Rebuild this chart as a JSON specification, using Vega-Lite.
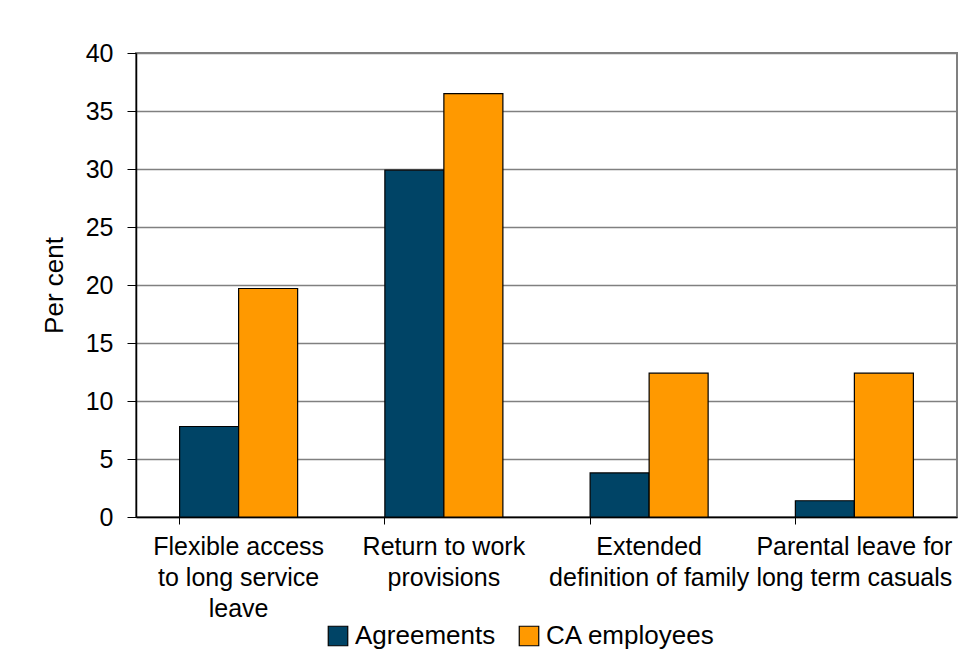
{
  "$schema": "https://vega.github.io/schema/vega-lite/v6.json",
  "width": 821,
  "height": 464,
  "autosize": {"type": "none"},
  "padding": {"left": 136, "top": 53, "right": 8, "bottom": 138},
  "background": "white",
  "config": {
    "font": "Liberation Sans",
    "view": {"stroke": "#808080", "strokeWidth": 2}
  },
  "data": {
    "values": [
      {"category": "Flexible access|to long service|leave", "series": "Agreements", "value": 7.8},
      {"category": "Flexible access|to long service|leave", "series": "CA employees", "value": 19.7},
      {"category": "Return to work|provisions", "series": "Agreements", "value": 29.9},
      {"category": "Return to work|provisions", "series": "CA employees", "value": 36.5},
      {"category": "Extended|definition of family", "series": "Agreements", "value": 3.8},
      {"category": "Extended|definition of family", "series": "CA employees", "value": 12.4},
      {"category": "Parental leave for|long term casuals", "series": "Agreements", "value": 1.4},
      {"category": "Parental leave for|long term casuals", "series": "CA employees", "value": 12.4}
    ]
  },
  "mark": {"type": "bar", "stroke": "black", "strokeWidth": 1.2},
  "encoding": {
    "x": {
      "field": "category",
      "type": "nominal",
      "sort": null,
      "scale": {"paddingInner": 0.425, "paddingOuter": 0.2125},
      "axis": {
        "title": null,
        "labelAngle": 0,
        "labelExpr": "split(datum.label, '|')",
        "labelFontSize": 25,
        "labelColor": "black",
        "labelLineHeight": 31,
        "labelPadding": 10,
        "labelBaseline": "top",
        "bandPosition": 0,
        "tickSize": 7,
        "tickColor": "black",
        "domainColor": "black",
        "domainWidth": 1.5,
        "grid": false,
        "labelLimit": 300
      }
    },
    "xOffset": {"field": "series", "type": "nominal", "scale": {"paddingInner": 0, "paddingOuter": 0}},
    "y": {
      "field": "value",
      "type": "quantitative",
      "scale": {"domain": [0, 40], "nice": false},
      "axis": {
        "title": "Per cent",
        "titleFontSize": 26,
        "titleFontWeight": "normal",
        "titleColor": "black",
        "titlePadding": 18,
        "values": [0, 5, 10, 15, 20, 25, 30, 35, 40],
        "labelFontSize": 25,
        "labelColor": "black",
        "labelPadding": 14,
        "tickSize": 9,
        "tickColor": "black",
        "domainColor": "black",
        "domainWidth": 1.5,
        "gridColor": "#808080",
        "gridWidth": 1.5,
        "gridOpacity": 1
      }
    },
    "color": {
      "field": "series",
      "type": "nominal",
      "scale": {"domain": ["Agreements", "CA employees"], "range": ["#004466", "#FF9900"]},
      "legend": {
        "title": null,
        "orient": "none",
        "direction": "horizontal",
        "legendX": 189,
        "legendY": 570,
        "padding": 0,
        "symbolType": "square",
        "symbolSize": 380,
        "symbolStrokeColor": "black",
        "symbolStrokeWidth": 1.2,
        "symbolOpacity": 1,
        "labelFontSize": 26,
        "labelColor": "black",
        "labelOffset": 4,
        "columnPadding": 20,
        "labelLimit": 300
      }
    }
  }
}
